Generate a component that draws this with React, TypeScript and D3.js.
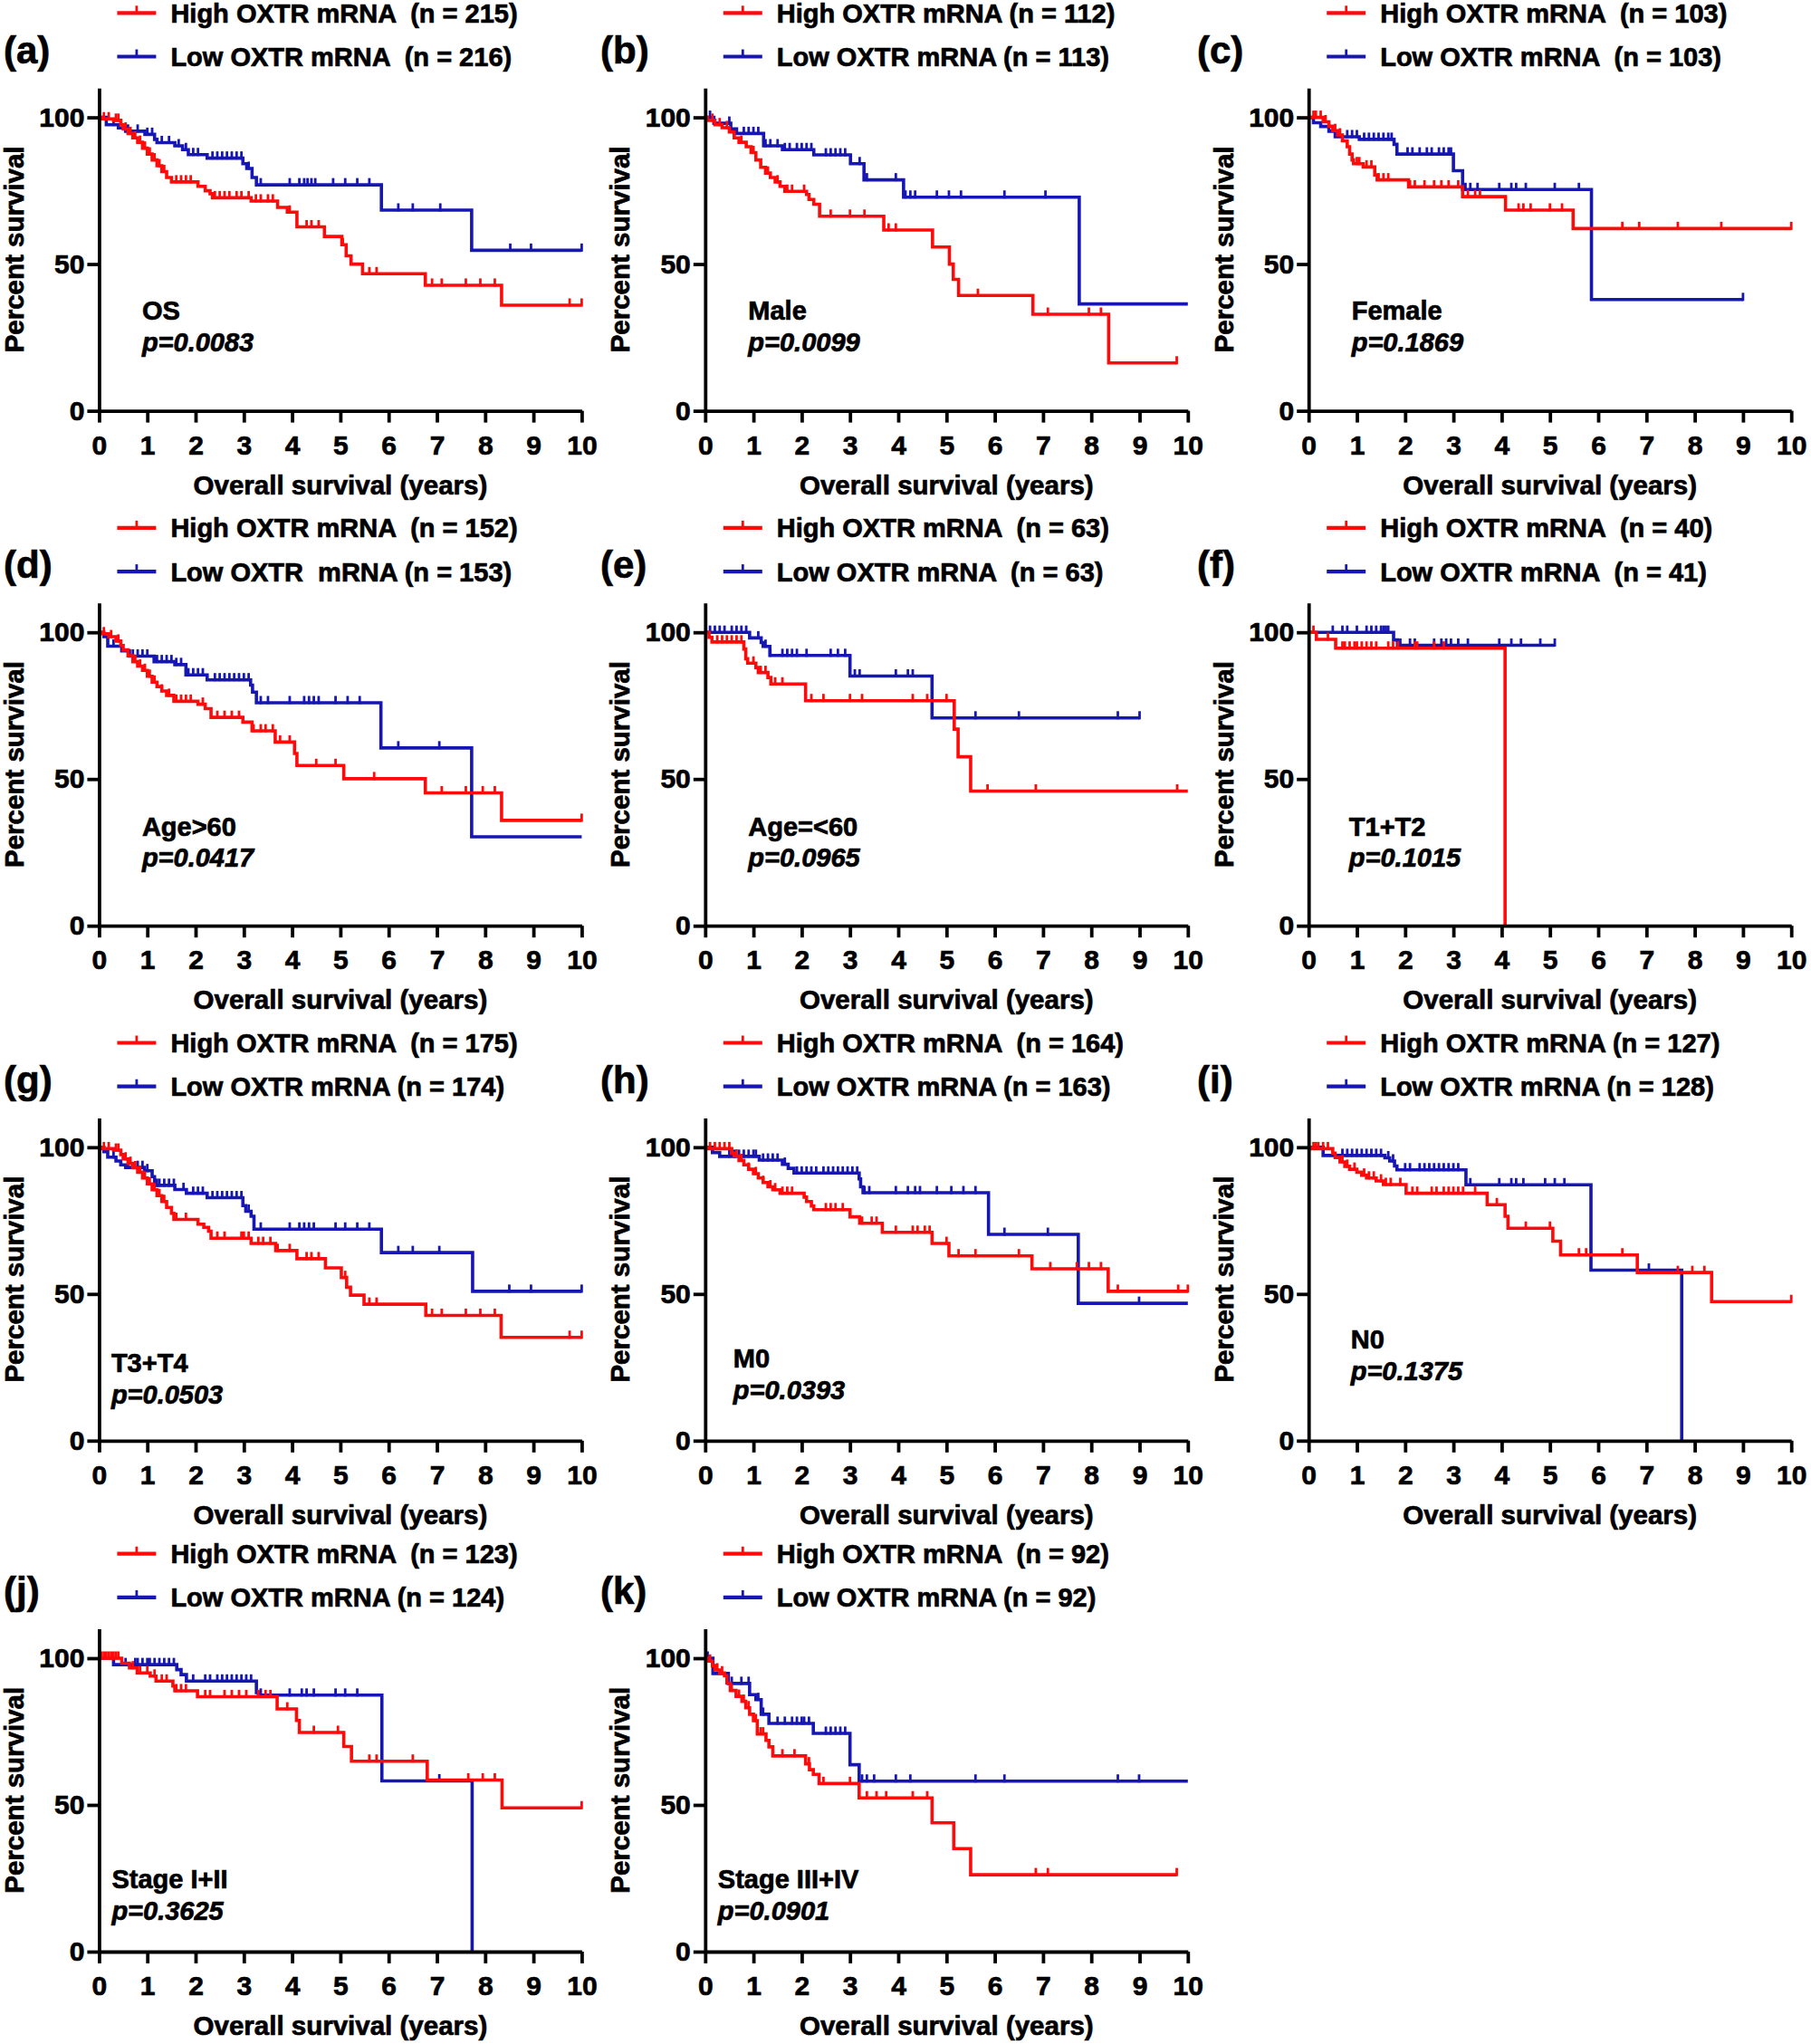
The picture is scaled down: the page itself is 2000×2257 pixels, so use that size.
import React, { useEffect, useRef } from 'react';
import * as d3 from 'd3';

type Step = [number, number];

// ---- text ----
const panelLetters = ['(a)', '(b)', '(c)', '(d)', '(e)', '(f)', '(g)', '(h)', '(i)', '(j)', '(k)'];
const groupLabels = ['OS', 'Male', 'Female', 'Age>60', 'Age=<60', 'T1+T2', 'T3+T4', 'M0', 'N0', 'Stage I+II', 'Stage III+IV'];
const pValues = ['p=0.0083', 'p=0.0099', 'p=0.1869', 'p=0.0417', 'p=0.0965', 'p=0.1015', 'p=0.0503', 'p=0.0393', 'p=0.1375', 'p=0.3625', 'p=0.0901'];
const highLabels = [
	'High OXTR mRNA  (n = 215)',
	'High OXTR mRNA (n = 112)',
	'High OXTR mRNA  (n = 103)',
	'High OXTR mRNA  (n = 152)',
	'High OXTR mRNA  (n = 63)',
	'High OXTR mRNA  (n = 40)',
	'High OXTR mRNA  (n = 175)',
	'High OXTR mRNA  (n = 164)',
	'High OXTR mRNA (n = 127)',
	'High OXTR mRNA  (n = 123)',
	'High OXTR mRNA  (n = 92)',
];
const lowLabels = [
	'Low OXTR mRNA  (n = 216)',
	'Low OXTR mRNA (n = 113)',
	'Low OXTR mRNA  (n = 103)',
	'Low OXTR  mRNA (n = 153)',
	'Low OXTR mRNA  (n = 63)',
	'Low OXTR mRNA  (n = 41)',
	'Low OXTR mRNA (n = 174)',
	'Low OXTR mRNA (n = 163)',
	'Low OXTR mRNA (n = 128)',
	'Low OXTR mRNA (n = 124)',
	'Low OXTR mRNA (n = 92)',
];
const xTicks = [0, 1, 2, 3, 4, 5, 6, 7, 8, 9, 10];
const yTicks = [0, 50, 100];

// ---- (a) OS ----
const osHighSteps: Step[] = [[0.05, 99.5], [0.3, 99], [0.45, 97.5], [0.5, 96], [0.6, 94.5], [0.7, 93], [0.8, 91.5], [0.9, 89.5], [1.0, 87.5], [1.1, 85.5], [1.2, 83.5], [1.3, 81.5], [1.4, 79.5], [1.5, 78], [2.05, 76.5], [2.2, 75], [2.3, 74], [2.35, 72.6], [3.15, 71.5], [3.7, 69.3], [3.9, 67.7], [4.1, 62.7], [4.67, 59.4], [5.03, 56.6], [5.12, 52.8], [5.22, 50], [5.46, 46.7], [6.76, 42.8], [8.34, 36]];
const osHighCensor = [0.1, 0.2, 0.35, 0.4, 0.55, 0.65, 0.75, 0.85, 0.95, 1.05, 1.15, 1.25, 1.35, 1.6, 1.7, 1.8, 1.9, 2.4, 2.5, 2.6, 2.7, 2.85, 2.95, 3.1, 3.25, 3.35, 3.5, 3.6, 3.95, 4.3, 4.4, 4.55, 5.05, 5.6, 5.75, 6.9, 7.1, 7.6, 7.9, 8.2, 9.75, 10];
const osLowSteps: Step[] = [[0.15, 97.5], [0.4, 96.4], [0.55, 95.3], [0.95, 94.2], [1.15, 92.5], [1.2, 91.4], [1.57, 90.3], [1.73, 89], [1.85, 87.3], [2.24, 86.1], [2.98, 84.2], [3.06, 82.6], [3.17, 79.5], [3.26, 77], [5.85, 68.4], [7.72, 54.7]];
const osLowCensor = [0.3, 0.6, 0.8, 1.0, 1.1, 1.3, 1.45, 1.65, 1.8, 1.95, 2.05, 2.35, 2.45, 2.55, 2.65, 2.75, 2.85, 2.95, 3.1, 3.35, 3.95, 4.15, 4.25, 4.32, 4.4, 4.48, 4.85, 5.1, 5.35, 5.6, 6.2, 6.5, 7.07, 8.52, 8.95, 10];

// ---- (b) Male ----
const maleHighSteps: Step[] = [[0.05, 99], [0.2, 97.5], [0.35, 96.5], [0.5, 95], [0.6, 93], [0.7, 91.5], [0.85, 90], [0.95, 88], [1.05, 85.5], [1.15, 83], [1.25, 81], [1.35, 79.5], [1.45, 78], [1.55, 76.5], [1.65, 74.8], [2.1, 73.7], [2.15, 72], [2.25, 70.4], [2.37, 66.3], [3.7, 61.6], [4.71, 55.8], [5.06, 50], [5.14, 44.8], [5.25, 39.3], [6.79, 32.9], [8.36, 16.3]];
const maleHighCensor = [0.15, 0.3, 0.45, 0.75, 1.0, 1.3, 1.5, 1.7, 1.8, 2.05, 2.6, 3.0, 3.3, 3.8, 3.95, 5.65, 7.1, 7.95, 8.2, 9.77];
const maleLowSteps: Step[] = [[0.18, 98], [0.53, 96.1], [0.65, 94.5], [1.21, 90.3], [1.6, 89], [2.25, 87.2], [3.01, 84.2], [3.29, 78.7], [4.11, 72.8], [7.75, 36.4]];
const maleLowCensor = [0.1, 0.5, 0.8, 0.9, 1.0, 1.1, 1.25, 1.35, 1.5, 1.65, 1.75, 1.9, 2.0, 2.1, 2.2, 2.5, 2.6, 2.7, 2.8, 2.9, 3.2, 3.35, 3.95, 4.15, 4.25, 4.35, 4.8, 5.05, 5.3, 6.2, 7.05];

// ---- (c) Female ----
const femaleHighSteps: Step[] = [[0.3, 98.5], [0.42, 97], [0.5, 95.5], [0.6, 94], [0.7, 92], [0.8, 90], [0.85, 87.5], [0.9, 85.5], [0.93, 84.2], [1.13, 83.1], [1.37, 80.4], [1.42, 78.7], [2.07, 76.3], [3.19, 73], [4.08, 68.4], [5.48, 62.1]];
const femaleHighCensor = [0.1, 0.15, 0.25, 0.35, 0.55, 0.65, 1.0, 1.05, 1.2, 1.3, 1.45, 1.55, 1.65, 2.1, 2.2, 2.4, 2.6, 2.75, 2.9, 3.1, 3.3, 3.45, 3.55, 4.35, 4.45, 4.6, 5.0, 5.25, 6.5, 6.85, 7.65, 8.55, 10];
const femaleLowSteps: Step[] = [[0.1, 98.2], [0.25, 96.9], [0.42, 95.3], [0.55, 93.4], [1.05, 92.5], [1.77, 90.8], [1.83, 87.5], [3.0, 81.8], [3.19, 75.4], [5.86, 37.9]];
const femaleLowCensor = [0.8, 0.9, 1.0, 1.15, 1.25, 1.35, 1.45, 1.55, 1.65, 1.72, 2.05, 2.15, 2.3, 2.45, 2.55, 2.7, 2.8, 2.9, 2.95, 3.25, 3.35, 3.5, 3.95, 4.2, 4.3, 4.5, 5.1, 5.6, 9.0];

// ---- (d) Age>60 ----
const olderHighSteps: Step[] = [[0.05, 99.5], [0.2, 98.5], [0.35, 97], [0.45, 95.5], [0.5, 94], [0.6, 92], [0.7, 90], [0.8, 88.5], [0.9, 87], [1.0, 85], [1.1, 83], [1.2, 81.5], [1.3, 80], [1.4, 78.5], [1.55, 76.5], [2.05, 75.5], [2.2, 74], [2.32, 71], [2.98, 69.4], [3.17, 66.4], [3.65, 62.6], [4.05, 58.7], [4.1, 54.6], [5.07, 50.1], [6.76, 45.3], [8.34, 35.9]];
const olderHighCensor = [0.1, 0.25, 0.4, 0.6, 0.75, 0.85, 0.95, 1.05, 1.15, 1.3, 1.45, 1.6, 1.7, 1.8, 1.9, 2.15, 2.45, 2.6, 2.75, 2.9, 3.2, 3.35, 3.45, 3.6, 3.75, 3.95, 4.5, 4.9, 5.7, 7.1, 7.6, 7.95, 8.2, 10];
const olderLowSteps: Step[] = [[0.1, 98.5], [0.18, 95.3], [0.47, 93.7], [0.63, 91.9], [1.14, 90], [1.57, 89], [1.8, 85.5], [2.24, 83.8], [3.14, 82], [3.18, 79.6], [3.26, 76], [5.84, 60.6], [7.72, 30.3]];
const olderLowCensor = [0.3, 0.7, 0.8, 0.9, 1.0, 1.2, 1.3, 1.4, 1.5, 1.6, 1.7, 1.85, 1.95, 2.05, 2.15, 2.4, 2.5, 2.6, 2.7, 2.8, 2.9, 3.0, 3.1, 3.35, 3.5, 3.95, 4.25, 4.35, 4.45, 4.55, 4.9, 5.15, 5.4, 6.2, 7.05];

// ---- (e) Age=<60 ----
const youngerHighSteps: Step[] = [[0.08, 98.3], [0.14, 96.7], [0.8, 94.3], [0.84, 91], [0.88, 89.5], [1.05, 88], [1.1, 86.3], [1.3, 84.6], [1.36, 82.4], [2.08, 76.7], [5.16, 67], [5.24, 57.6], [5.5, 45.9]];
const youngerHighCensor = [0.25, 0.35, 0.45, 0.55, 0.65, 0.75, 1.0, 1.15, 1.25, 1.45, 1.6, 2.2, 2.45, 3.0, 3.25, 4.3, 4.6, 5.0, 5.85, 6.85, 9.78];
const youngerLowSteps: Step[] = [[0.92, 98.1], [1.16, 96.5], [1.2, 95.2], [1.34, 92.1], [3.0, 85.1], [4.7, 70.8]];
const youngerLowCensor = [0.1, 0.2, 0.3, 0.4, 0.55, 0.65, 0.75, 0.85, 1.1, 1.25, 1.35, 1.6, 1.7, 1.8, 1.9, 2.1, 2.6, 2.75, 2.9, 3.1, 3.2, 3.95, 4.2, 4.3, 5.6, 6.5, 8.55, 9.0];

// ---- (f) T1+T2 ----
const t12HighSteps: Step[] = [[0.16, 97.6], [0.56, 94.6], [4.07, 0]];
const t12HighCensor = [0.1, 0.4, 0.7, 0.75, 0.85, 0.95, 1.0, 1.1, 1.2, 1.3, 1.4, 1.65, 1.75, 1.85, 2.2, 2.25, 2.6, 2.8];
const t12LowSteps: Step[] = [[1.76, 97.4], [1.84, 95.6]];
const t12LowCensor = [0.5, 0.7, 0.8, 1.0, 1.2, 1.3, 1.4, 1.5, 1.55, 1.6, 1.65, 1.9, 2.1, 2.2, 2.6, 2.75, 2.85, 2.95, 3.1, 3.3, 3.95, 4.2, 4.4, 4.8, 5.1];

// ---- (g) T3+T4 ----
const t34HighSteps: Step[] = [[0.05, 99.5], [0.3, 99], [0.45, 97.5], [0.5, 96], [0.6, 94.5], [0.7, 93], [0.8, 91.5], [0.9, 89.5], [1.0, 87.5], [1.1, 85.5], [1.2, 83.5], [1.3, 81.5], [1.4, 79.5], [1.5, 77.5], [1.55, 75.4], [2.05, 73.8], [2.17, 72.7], [2.27, 71.4], [2.32, 69], [3.15, 67.2], [3.66, 64.8], [4.1, 62], [4.69, 58.9], [5.02, 55.6], [5.13, 52.3], [5.21, 49.6], [5.49, 46.5], [6.77, 42.7], [8.33, 35.2]];
const t34HighCensor = [0.1, 0.2, 0.35, 0.4, 0.55, 0.65, 0.75, 0.85, 0.95, 1.05, 1.15, 1.25, 1.35, 1.6, 1.8, 2.45, 2.6, 2.95, 3.0, 3.1, 3.3, 3.4, 3.55, 3.7, 3.95, 4.3, 4.4, 4.55, 5.1, 5.6, 5.75, 6.9, 7.1, 7.6, 7.9, 8.2, 9.75, 10];
const t34LowSteps: Step[] = [[0.1, 98.5], [0.18, 96.6], [0.35, 95.3], [0.45, 94], [0.55, 93.1], [0.94, 92], [1.1, 90], [1.15, 87], [1.57, 85.6], [1.81, 84.3], [2.24, 82.8], [2.98, 80.1], [3.04, 78.2], [3.15, 76.5], [3.21, 72.1], [5.85, 64.1], [7.74, 50.9]];
const t34LowCensor = [0.3, 0.6, 0.8, 0.9, 1.0, 1.2, 1.25, 1.35, 1.45, 1.55, 1.75, 1.95, 2.05, 2.15, 2.35, 2.45, 2.55, 2.65, 2.75, 2.85, 2.95, 3.1, 3.35, 3.95, 4.15, 4.25, 4.35, 4.45, 4.9, 5.1, 5.35, 5.6, 6.2, 6.5, 7.05, 8.5, 8.95, 10];

// ---- (h) M0 ----
const m0HighSteps: Step[] = [[0.05, 99.5], [0.55, 98], [0.6, 97], [0.7, 95.5], [0.8, 94], [0.9, 92.5], [1.0, 91], [1.1, 89.5], [1.2, 88], [1.3, 86.5], [1.4, 85.5], [1.55, 84.3], [2.05, 83], [2.1, 81.5], [2.2, 80], [2.25, 78.7], [3.0, 76.3], [3.2, 74.1], [3.67, 71], [4.7, 67.2], [5.05, 63], [6.77, 58.6], [8.35, 50.9]];
const m0HighCensor = [0.1, 0.2, 0.3, 0.4, 0.5, 0.65, 0.75, 0.9, 1.05, 1.2, 1.35, 1.45, 1.6, 1.7, 1.8, 2.5, 2.6, 2.7, 2.85, 3.0, 3.25, 3.45, 3.55, 3.95, 4.3, 4.4, 4.55, 4.65, 5.0, 5.25, 5.6, 6.5, 7.15, 7.7, 7.95, 8.2, 8.55, 9.8, 10];
const m0LowSteps: Step[] = [[0.15, 98.2], [0.3, 96.9], [1.12, 95.6], [1.6, 94.2], [1.72, 92.8], [1.84, 91.2], [3.19, 89.2], [3.22, 86.5], [3.27, 84.5], [5.87, 70.3], [7.73, 46.8]];
const m0LowCensor = [0.5, 0.6, 0.7, 0.8, 0.9, 1.0, 1.05, 1.2, 1.3, 1.4, 1.5, 1.65, 1.9, 2.0, 2.1, 2.2, 2.3, 2.45, 2.55, 2.65, 2.75, 2.85, 2.95, 3.05, 3.15, 3.3, 3.4, 3.95, 4.2, 4.35, 4.45, 4.8, 5.1, 5.35, 5.6, 6.2, 7.1, 8.99];

// ---- (i) N0 ----
const n0HighSteps: Step[] = [[0.05, 99.5], [0.5, 98], [0.55, 96.5], [0.65, 95], [0.75, 93.5], [0.85, 92.5], [1.0, 91.5], [1.1, 90.5], [1.2, 89.5], [1.4, 88.5], [1.55, 87.3], [2.02, 84.3], [3.7, 80.4], [4.07, 76.5], [4.13, 72.4], [5.06, 68], [5.22, 63.3], [6.81, 57.3], [8.35, 47.4]];
const n0HighCensor = [0.1, 0.15, 0.2, 0.3, 0.4, 0.7, 0.8, 0.95, 1.15, 1.25, 1.35, 1.5, 1.6, 1.7, 1.9, 2.15, 2.25, 2.55, 2.65, 2.8, 2.9, 3.0, 3.1, 3.2, 3.45, 3.9, 4.5, 5.0, 5.6, 5.75, 6.5, 7.65, 7.95, 8.2, 10];
const n0LowSteps: Step[] = [[0.3, 97.2], [1.58, 96.4], [1.68, 95.3], [1.78, 93.6], [1.83, 92.3], [3.26, 87.2], [5.85, 58.1], [7.73, 0]];
const n0LowCensor = [0.7, 0.8, 0.9, 1.0, 1.1, 1.2, 1.3, 1.4, 1.5, 1.65, 1.75, 2.0, 2.1, 2.3, 2.4, 2.5, 2.6, 2.7, 2.8, 2.9, 3.0, 3.1, 3.35, 3.95, 4.2, 4.3, 4.45, 4.9, 5.1, 5.3, 7.05];

// ---- (j) Stage I+II ----
const earlyHighSteps: Step[] = [[0.47, 98.3], [0.63, 96.7], [0.79, 95], [1.06, 93.9], [1.18, 92.2], [1.53, 90.5], [1.57, 88.9], [2.04, 86.9], [3.69, 82.7], [4.09, 78.8], [4.15, 74.7], [5.07, 69.9], [5.23, 64.9], [6.8, 58.5], [8.35, 49]];
const earlyHighCensor = [0.05, 0.1, 0.15, 0.2, 0.25, 0.3, 0.35, 0.4, 0.7, 0.85, 1.0, 1.15, 1.3, 1.4, 1.6, 1.7, 1.8, 2.2, 2.3, 2.6, 2.75, 2.9, 3.05, 3.3, 3.45, 3.55, 3.9, 4.45, 4.95, 5.6, 5.75, 6.5, 7.65, 7.95, 8.2, 10];
const earlyLowSteps: Step[] = [[0.3, 97.8], [1.61, 96.1], [1.7, 94.4], [1.81, 92.2], [3.26, 88.3], [3.3, 87.4], [5.86, 58.2], [7.73, 0]];
const earlyLowCensor = [0.55, 0.75, 0.8, 0.9, 1.0, 1.05, 1.15, 1.25, 1.35, 1.45, 1.55, 1.95, 2.2, 2.3, 2.45, 2.55, 2.65, 2.75, 2.85, 2.95, 3.05, 3.15, 3.35, 3.95, 4.2, 4.3, 4.45, 4.9, 5.1, 5.35, 7.05];

// ---- (k) Stage III+IV ----
const lateHighSteps: Step[] = [[0.05, 99], [0.15, 97.5], [0.2, 96], [0.3, 95], [0.4, 94], [0.45, 91.5], [0.52, 89], [0.64, 87], [0.76, 85.3], [0.84, 83.1], [0.92, 80.9], [1.0, 78.7], [1.08, 74.2], [1.26, 72], [1.32, 69.8], [1.4, 66.7], [2.08, 64], [2.16, 62], [2.24, 60.4], [2.36, 57.3], [3.19, 52.4], [4.7, 43.9], [5.15, 35.1], [5.5, 26.2]];
const lateHighCensor = [0.1, 0.25, 0.35, 0.55, 0.7, 0.8, 0.9, 1.05, 1.15, 1.2, 1.6, 1.85, 2.15, 2.45, 3.0, 3.35, 3.55, 3.75, 4.3, 4.6, 6.85, 7.1, 9.77];
const lateLowSteps: Step[] = [[0.16, 94.8], [0.48, 91.4], [0.92, 87.6], [1.05, 85.9], [1.16, 80.9], [1.32, 77.8], [2.24, 74.4], [3.0, 63.7], [3.19, 58.1]];
const lateLowCensor = [0.05, 0.55, 0.75, 0.9, 1.1, 1.2, 1.5, 1.65, 1.8, 1.9, 2.0, 2.05, 2.15, 2.5, 2.6, 2.7, 2.8, 2.9, 3.25, 3.35, 3.5, 3.95, 4.25, 5.6, 6.2, 8.55, 8.99];

// last follow-up time of each curve (years)
const highEnds = [10, 9.77, 10, 10, 10, 4.07, 10, 10, 10, 10, 9.77];
const lowEnds = [10, 10, 9, 10, 9, 5.1, 10, 10, 7.73, 7.73, 10];

const highSteps = [osHighSteps, maleHighSteps, femaleHighSteps, olderHighSteps, youngerHighSteps, t12HighSteps, t34HighSteps, m0HighSteps, n0HighSteps, earlyHighSteps, lateHighSteps];
const highCensor = [osHighCensor, maleHighCensor, femaleHighCensor, olderHighCensor, youngerHighCensor, t12HighCensor, t34HighCensor, m0HighCensor, n0HighCensor, earlyHighCensor, lateHighCensor];
const lowSteps = [osLowSteps, maleLowSteps, femaleLowSteps, olderLowSteps, youngerLowSteps, t12LowSteps, t34LowSteps, m0LowSteps, n0LowSteps, earlyLowSteps, lateLowSteps];
const lowCensor = [osLowCensor, maleLowCensor, femaleLowCensor, olderLowCensor, youngerLowCensor, t12LowCensor, t34LowCensor, m0LowCensor, n0LowCensor, earlyLowCensor, lateLowCensor];

// ---- layout ----
const W = 2000;
const H = 2257;
const FONT = "'Liberation Sans', Arial, Helvetica, sans-serif";
const RED = '#ff0a0a';
const BLUE = '#1616b4';
const colAxisX = [109.4, 778.8, 1445.2];
const rowTop = [129.6, 698.2, 1266.8, 1831];
const letterX = [4, 663, 1322];
const plotW = 533;
const plotH = 324;
// group label offset (x from axis, label centre y below the 100 % line)
const labelDx = [47.5, 47.5, 47.5, 47.5, 47.5, 44.6, 13.5, 31, 46.5, 14, 14];
const labelDy = [213, 213, 213, 214, 214, 214, 238, 233, 212, 244, 244];

const survivalAt = (steps: Step[], t: number) => {
	let s = 100;
	for (const [tt, ss] of steps) if (tt <= t) s = ss;
	return s;
};

// bold text with a hairline outline, like the heavy export of the original
const boldText = (
	sel: d3.Selection<SVGTextElement, unknown, null, undefined>,
	size: number,
) =>
	sel
		.style('font-family', FONT)
		.style('font-size', `${size}px`)
		.style('font-weight', 'bold')
		.style('fill', '#000')
		.style('stroke', '#000')
		.style('stroke-width', '0.7px');

const App: React.FC = () => {
	const ref = useRef<SVGSVGElement>(null);

	useEffect(() => {
		if (!ref.current) return;
		const svg = d3.select(ref.current);
		svg.selectAll('*').remove();

		svg.append('rect').attr('width', W).attr('height', H).attr('fill', '#fff');

		panelLetters.forEach((letter, i) => {
			const col = i % 3;
			const row = Math.floor(i / 3);
			const left = colAxisX[col];
			const top = rowTop[row];

			const x = d3.scaleLinear().domain([0, 10]).range([left, left + plotW]);
			const y = d3
				.scaleLinear()
				.domain([0, 110])
				.range([top + plotH, top + plotH - plotH * 1.1]);

			const g = svg.append('g').attr('class', 'panel');

			// --- curves ---
			const line = d3
				.line<Step>()
				.x((d) => x(d[0]))
				.y((d) => y(d[1]))
				.curve(d3.curveStepAfter);

			const series = [
				{ steps: lowSteps[i], censor: lowCensor[i], end: lowEnds[i], color: BLUE },
				{ steps: highSteps[i], censor: highCensor[i], end: highEnds[i], color: RED },
			];

			series.forEach((s) => {
				const last = s.steps.length ? s.steps[s.steps.length - 1][1] : 100;
				const pts: Step[] = [[0, 100], ...s.steps, [s.end, last]];
				g.append('path')
					.attr('d', line(pts))
					.attr('fill', 'none')
					.attr('stroke', s.color)
					.attr('stroke-width', 3.6);

				g.append('g')
					.selectAll('line')
					.data(s.censor)
					.enter()
					.append('line')
					.attr('x1', (c) => x(c))
					.attr('x2', (c) => x(c))
					.attr('y1', (c) => y(survivalAt(s.steps, c)) + 1.5)
					.attr('y2', (c) => y(survivalAt(s.steps, c)) - 7.5)
					.attr('stroke', s.color)
					.attr('stroke-width', 2.8);
			});

			// --- axes ---
			const gx = g
				.append('g')
				.attr('transform', `translate(0,${y(0)})`)
				.call(
					d3
						.axisBottom(x)
						.tickValues(xTicks)
						.tickSize(13)
						.tickSizeOuter(0)
						.tickPadding(14)
						.tickFormat(d3.format('d')),
				);
			const gy = g
				.append('g')
				.attr('transform', `translate(${x(0)},0)`)
				.call(
					d3
						.axisLeft(y)
						.tickValues(yTicks)
						.tickSize(13)
						.tickSizeOuter(0)
						.tickPadding(3)
						.tickFormat(d3.format('d')),
				);
			[gx, gy].forEach((ax) => {
				ax.attr('font-size', null).attr('font-family', null);
				ax.selectAll('path, line').attr('stroke', '#000').attr('stroke-width', 3.8);
				boldText(ax.selectAll<SVGTextElement, unknown>('text') as any, 30);
			});

			// --- axis titles ---
			boldText(
				g
					.append('text')
					.attr('x', x(5))
					.attr('y', y(0) + 92)
					.attr('text-anchor', 'middle') as any,
				29.5,
			).text('Overall survival (years)');

			boldText(
				g
					.append('text')
					.attr('transform', `translate(${left - 83.5},${y(55)}) rotate(-90)`)
					.attr('text-anchor', 'middle') as any,
				29.5,
			).text('Percent survival');

			// --- panel letter ---
			boldText(
				g
					.append('text')
					.attr('x', letterX[col])
					.attr('y', top - 60) as any,
				42,
			).text(letter);

			// --- legend ---
			const legendRows = [
				{ label: highLabels[i], color: RED, cy: top - 115.3 },
				{ label: lowLabels[i], color: BLUE, cy: top - 67.1 },
			];
			legendRows.forEach((r) => {
				g.append('line')
					.attr('x1', left + 20)
					.attr('x2', left + 63)
					.attr('y1', r.cy)
					.attr('y2', r.cy)
					.attr('stroke', r.color)
					.attr('stroke-width', 4.2);
				g.append('line')
					.attr('x1', left + 41.5)
					.attr('x2', left + 41.5)
					.attr('y1', r.cy)
					.attr('y2', r.cy - 8)
					.attr('stroke', r.color)
					.attr('stroke-width', 2.8);
				boldText(
					g
						.append('text')
						.attr('x', left + 79)
						.attr('y', r.cy + 10.4)
						.style('white-space', 'pre') as any,
					29,
				).text(r.label);
			});

			// --- group and p value ---
			boldText(
				g
					.append('text')
					.attr('x', left + labelDx[i])
					.attr('y', top + labelDy[i] + 10.4) as any,
				29,
			).text(groupLabels[i]);
			boldText(
				g
					.append('text')
					.attr('x', left + labelDx[i])
					.attr('y', top + labelDy[i] + 45)
					.style('font-style', 'italic') as any,
				29,
			).text(pValues[i]);
		});
	}, []);

	return (
		<svg
			ref={ref}
			width={W}
			height={H}
			viewBox={`0 0 ${W} ${H}`}
			style={{ position: 'absolute', left: 0, top: 0, display: 'block' }}
		/>
	);
};

export default App;
